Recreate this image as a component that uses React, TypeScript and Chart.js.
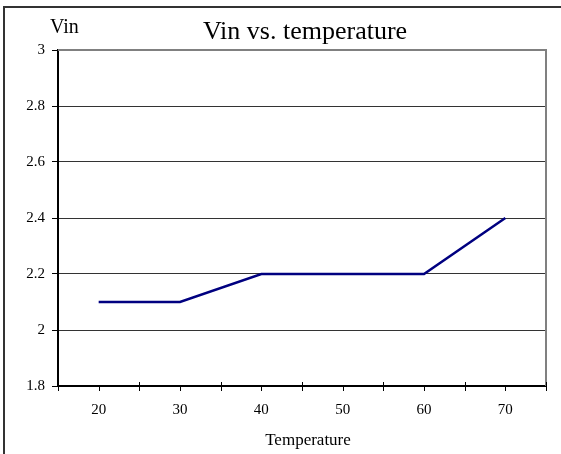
import React, { useEffect, useRef } from "react";
import { Chart, registerables } from "chart.js";

Chart.register(...registerables);

const categories = ["20", "30", "40", "50", "60", "70"];
const vinValues = [2.1, 2.1, 2.2, 2.2, 2.2, 2.4];
const chartTitle = "Vin vs. temperature";
const yAxisTitle = "Vin";
const xAxisTitle = "Temperature";
const yMin = 1.8;
const yMax = 3;
const yStep = 0.2;

const FONT = "'Liberation Serif', 'Times New Roman', serif";

const decor = {
  id: "decor",
  beforeDraw(chart: any) {
    const ctx = chart.ctx;
    ctx.save();
    ctx.fillStyle = "#fff";
    ctx.fillRect(0, 0, chart.width, chart.height);
    ctx.strokeStyle = "#333";
    ctx.lineWidth = 2;
    ctx.beginPath();
    ctx.moveTo(4, chart.height);
    ctx.lineTo(4, 7);
    ctx.lineTo(chart.width, 7);
    ctx.stroke();
    ctx.restore();
  },
  afterDraw(chart: any) {
    const ctx = chart.ctx;
    const a = chart.chartArea;
    const xs = chart.scales.x;
    ctx.save();
    ctx.strokeStyle = "#808080";
    ctx.lineWidth = 2;
    ctx.beginPath();
    ctx.moveTo(a.left, a.top);
    ctx.lineTo(a.right, a.top);
    ctx.lineTo(a.right, a.bottom);
    ctx.stroke();
    ctx.strokeStyle = "#000";
    ctx.lineWidth = 1;
    const n = categories.length;
    const half = (xs.getPixelForValue(1) - xs.getPixelForValue(0)) / 2;
    ctx.beginPath();
    for (let i = 0; i < n; i++) {
      const c = Math.round(xs.getPixelForValue(i)) + 0.5;
      ctx.moveTo(c, a.bottom);
      ctx.lineTo(c, a.bottom + 5);
    }
    for (let i = 0; i <= n; i++) {
      const b = Math.round(xs.getPixelForValue(i) - half) + 0.5;
      ctx.moveTo(b, a.bottom - 4);
      ctx.lineTo(b, a.bottom + 5);
    }
    ctx.stroke();
    ctx.fillStyle = "#000";
    ctx.textBaseline = "alphabetic";
    ctx.textAlign = "center";
    ctx.font = `26px ${FONT}`;
    ctx.fillText(chartTitle, (a.left + a.right) / 2 + 3, 39);
    ctx.textAlign = "left";
    ctx.font = `20px ${FONT}`;
    ctx.fillText(yAxisTitle, 50, 33);
    ctx.textAlign = "center";
    ctx.font = `17px ${FONT}`;
    ctx.fillText(xAxisTitle, (a.left + a.right) / 2 + 6, 445);
    ctx.restore();
  },
};

export default function App() {
  const ref = useRef<HTMLCanvasElement | null>(null);
  useEffect(() => {
    document.body.style.margin = "0";
    const canvas = ref.current!;
    const chart = new Chart(canvas, {
      type: "line",
      data: {
        labels: categories,
        datasets: [
          {
            data: vinValues,
            borderColor: "#000080",
            borderWidth: 2.5,
            pointRadius: 0,
            fill: false,
            tension: 0,
          },
        ],
      },
      options: {
        responsive: false,
        animation: false,
        layout: { padding: { left: 0, top: 50, right: 15, bottom: 0 } },
        plugins: {
          legend: { display: false },
          tooltip: { enabled: false },
          title: { display: false },
        },
        scales: {
          x: {
            type: "category",
            offset: true,
            grid: {
              offset: true,
              drawOnChartArea: false,
              drawTicks: true,
              tickLength: 5,
              color: "rgba(0,0,0,0)",
            },
            border: { display: true, color: "#000", width: 2 },
            ticks: {
              color: "#000",
              font: { family: FONT, size: 15 },
              padding: 10,
              maxRotation: 0,
            },
            afterFit: (s: any) => {
              s.height = 68;
            },
          },
          y: {
            min: yMin,
            max: yMax,
            grid: {
              color: "#333",
              lineWidth: 1,
              drawTicks: true,
              tickLength: 6,
              tickColor: "#000",
            },
            border: { display: true, color: "#000", width: 2 },
            ticks: {
              stepSize: yStep,
              color: "#000",
              font: { family: FONT, size: 15 },
              padding: 7,
              callback: (v: any) => String(Number(Number(v).toFixed(1))),
            },
            afterFit: (s: any) => {
              s.width = 58;
            },
          },
        },
      },
      plugins: [decor],
    });
    return () => chart.destroy();
  }, []);
  return (
    <div style={{ width: 561, height: 454 }}>
      <canvas ref={ref} width={561} height={454} style={{ display: "block" }} />
    </div>
  );
}
